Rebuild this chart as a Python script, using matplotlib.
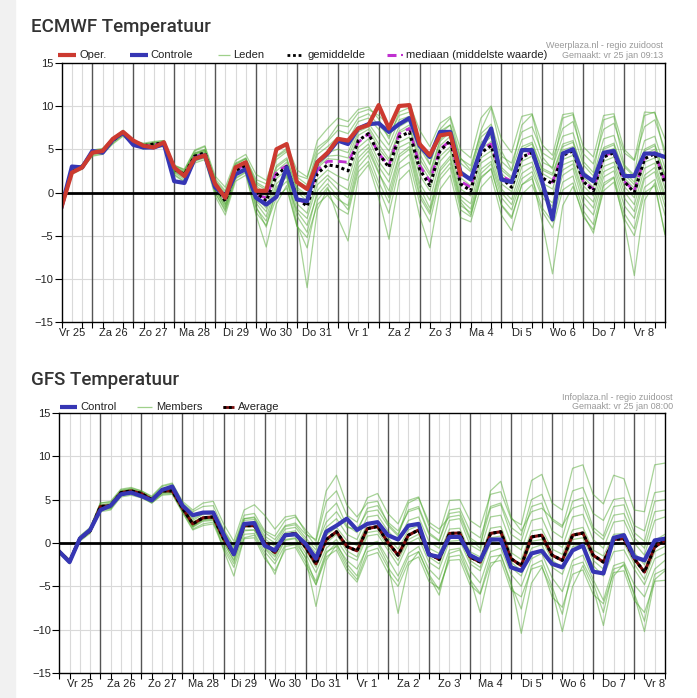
import numpy as np
import matplotlib.pyplot as plt
from matplotlib.patches import Rectangle
from matplotlib.lines import Line2D

plt.rcParams['font.family'] = ['Liberation Sans', 'DejaVu Sans']

W, H = 697, 698

day_labels = ['Vr 25', 'Za 26', 'Zo 27', 'Ma 28', 'Di 29', 'Wo 30', 'Do 31',
              'Vr 1', 'Za 2', 'Zo 3', 'Ma 4', 'Di 5', 'Wo 6', 'Do 7', 'Vr 8']

# ECMWF: 6-hourly values from vr 25 jan 06:00
ecmwf_oper = [-1.6, 2.3, 2.9, 4.6, 4.8, 6.2, 7.0, 6.0, 5.4, 5.2,
              5.8, 2.9, 1.9, 3.9, 4.3, 1.0, -0.6, 2.9, 3.5, 0.2,
              0.2, 5.0, 5.6, 1.2, 0.4, 3.5, 4.6, 6.2, 6.0, 7.4,
              7.8, 10.1, 7.4, 10.0, 10.1, 5.6, 4.3, 6.6, 6.8, 2.1]
ecmwf_control = [-1.6, 3.0, 2.9, 4.8, 4.6, 6.1, 6.9, 5.5, 5.2, 5.2,
                 5.6, 1.3, 1.1, 3.9, 4.3, 0.6, -0.4, 2.1, 2.7, -0.6,
                 -1.4, -0.5, 2.9, -0.8, -1.0, 3.5, 4.5, 6.0, 5.6, 7.4,
                 7.9, 8.0, 7.0, 7.9, 8.6, 5.4, 4.1, 7.0, 7.0, 2.3,
                 1.5, 5.0, 7.4, 1.5, 1.2, 4.9, 4.9, 1.2, -3.1, 4.5,
                 5.0, 2.1, 1.3, 4.6, 4.8, 1.9, 1.9, 4.5, 4.5, 4.1]
ecmwf_mean = [-1.6, 2.4, 3.0, 4.6, 4.8, 6.0, 6.9, 5.8, 5.4, 5.6,
              5.7, 2.7, 2.1, 4.2, 4.6, 0.8, -1.0, 2.5, 3.1, 0.0,
              -1.0, 2.0, 3.0, -0.6, -1.6, 2.2, 3.2, 3.0, 2.5, 6.0,
              6.8, 4.5, 2.9, 6.4, 7.0, 2.7, 0.8, 4.8, 6.0, 1.0,
              0.2, 4.6, 5.4, 1.7, 0.6, 4.1, 4.6, 1.7, 1.0, 4.3,
              4.8, 1.3, 0.2, 4.1, 4.6, 1.3, 0.0, 3.9, 4.5, 1.0]
ecmwf_median = [-1.6, 2.4, 3.0, 4.6, 4.8, 6.0, 6.9, 5.8, 5.4, 5.5,
                5.7, 2.6, 2.0, 4.1, 4.5, 0.9, -0.8, 2.6, 3.2, -0.3,
                -0.6, 2.4, 3.1, -0.8, -1.2, 2.6, 3.6, 3.6, 3.5, 5.8,
                6.8, 4.5, 3.1, 6.8, 7.4, 3.1, 1.3, 5.0, 6.0, 1.3,
                0.6, 5.0, 5.6, 1.9, 1.3, 4.3, 4.6, 1.5, 1.2, 4.5,
                5.0, 1.3, 0.4, 4.3, 4.6, 1.3, 0.2, 4.1, 4.6, 1.3]
ecmwf_members = [
    [-1.5, 2.6, 3.2, 4.9, 5.1, 6.3, 7.2, 6.0, 5.6, 5.8, 6.0, 3.2, 2.6, 4.8, 5.3, 1.6, 0.2, 3.4, 4.0, 1.5,
     1.0, 4.2, 5.1, 1.8, 0.9, 4.8, 5.9, 7.2, 6.8, 8.6, 9.1, 7.8, 6.5, 8.9, 9.3, 5.9, 4.0, 7.1, 7.8, 3.9,
     3.1, 6.8, 7.9, 4.2, 3.4, 7.0, 7.6, 4.6, 3.8, 7.4, 8.2, 4.5, 3.3, 7.3, 8.0, 4.6, 3.7, 7.6, 8.4, 4.9],
    [-1.7, 2.1, 2.7, 4.2, 4.4, 5.6, 6.5, 5.5, 5.0, 5.2, 5.3, 2.0, 1.2, 3.4, 3.8, -0.4, -2.6, 1.3, 2.0, -2.3,
     -3.8, -0.6, 0.5, -3.9, -5.2, -1.4, -0.3, -1.8, -2.5, 2.4, 3.6, 0.5, -2.4, 2.7, 3.5, -1.2, -3.4, 1.5, 2.9, -2.0,
     -2.8, 1.8, 2.7, -1.5, -3.0, 0.9, 1.6, -1.8, -3.4, 1.2, 1.9, -2.1, -3.7, 1.1, 1.8, -2.4, -4.2, 0.6, 1.5, -2.6],
    [-1.6, 2.5, 3.1, 4.7, 4.9, 6.1, 7.0, 5.9, 5.5, 5.7, 5.8, 2.9, 2.4, 4.5, 4.9, 1.2, -0.4, 3.0, 3.6, 0.8,
     -0.2, 3.1, 4.0, 0.6, -0.3, 3.4, 4.6, 5.0, 4.6, 7.4, 8.0, 6.3, 4.8, 7.6, 8.3, 4.5, 2.3, 6.1, 7.2, 2.6,
     1.6, 5.8, 6.6, 2.9, 1.8, 5.3, 5.8, 2.8, 2.2, 5.6, 6.0, 2.5, 1.3, 5.2, 5.7, 2.4, 1.2, 5.0, 5.6, 2.0],
    [-1.6, 2.3, 2.9, 4.5, 4.6, 5.8, 6.7, 5.6, 5.2, 5.4, 5.5, 2.4, 1.7, 3.9, 4.3, 0.3, -1.6, 2.0, 2.6, -0.9,
     -2.2, 1.0, 2.1, -1.9, -3.0, 0.9, 2.0, 1.0, 0.3, 4.6, 5.6, 3.0, 1.2, 5.2, 5.8, 1.1, -0.9, 3.6, 4.9, -0.4,
     -1.3, 3.4, 4.2, 0.4, -0.8, 3.0, 3.5, 0.5, -0.3, 3.2, 3.7, 0.1, -1.1, 3.0, 3.5, 0.1, -1.4, 2.8, 3.4, -0.3],
    [-1.6, 2.2, 2.8, 4.4, 4.7, 5.9, 6.8, 5.7, 5.3, 5.5, 5.6, 2.5, 1.9, 4.0, 4.4, 0.5, -1.3, 2.2, 2.8, -1.2,
     -2.8, 0.6, 1.8, -3.5, -11.0, -2.0, 0.4, -0.8, -1.5, 3.5, 4.8, 2.2, 0.2, 4.4, 5.3, 0.6, -1.8, 2.8, 4.2, -0.8,
     -1.9, 2.7, 3.6, 0.0, -1.4, 2.2, 3.0, -0.2, -1.2, 2.6, 3.3, -0.4, -1.8, 2.4, 3.0, -0.6, -2.2, 2.0, 2.9, -0.8],
    [-1.6, 2.6, 3.1, 4.8, 5.0, 6.2, 7.1, 6.0, 5.6, 5.7, 5.9, 3.1, 2.5, 4.6, 5.0, 1.3, -0.3, 3.2, 3.9, 1.2,
     0.5, 3.8, 4.7, 2.0, 1.6, 6.0, 7.4, 8.6, 8.2, 9.6, 9.9, 8.5, 6.2, 9.3, 9.8, 6.0, 3.3, 7.3, 8.6, 4.0,
     2.6, 7.2, 9.8, 4.8, 2.6, 7.8, 9.0, 4.1, 2.7, 8.6, 9.0, 3.6, 2.3, 8.4, 8.8, 3.2, 2.0, 8.9, 9.3, 4.2],
    [-1.6, 2.4, 3.0, 4.6, 4.8, 6.0, 6.8, 5.8, 5.3, 5.6, 5.7, 2.6, 2.0, 4.2, 4.6, 0.6, -1.4, 2.3, 2.9, -1.6,
     -4.0, 0.3, 2.0, -2.7, -4.6, 0.2, 1.6, 0.3, -0.6, 4.0, 5.2, 2.4, -0.6, 4.1, 5.0, -0.1, -2.2, 2.5, 3.9, -1.1,
     -2.6, 1.6, 2.8, -1.4, -2.8, 0.9, 1.9, -3.5, -9.4, -1.5, 0.7, -2.5, -4.7, 0.8, 1.7, -3.4, -9.6, -0.9, 1.1, -4.9],
    [-1.6, 2.5, 3.0, 4.6, 4.8, 6.1, 6.9, 5.8, 5.4, 5.6, 5.8, 2.8, 2.2, 4.3, 4.7, 0.9, -0.9, 2.6, 3.3, 0.3,
     -0.7, 2.5, 3.5, 0.1, -1.0, 2.8, 3.9, 3.8, 3.3, 6.6, 7.3, 5.1, 3.6, 6.9, 7.5, 3.4, 1.5, 5.4, 6.5, 1.7,
     0.8, 5.0, 5.9, 2.2, 1.1, 4.6, 5.2, 2.2, 1.5, 4.9, 5.3, 1.8, 0.6, 4.6, 5.1, 1.7, 0.5, 4.4, 5.0, 1.5],
    [-1.6, 2.3, 2.9, 4.5, 4.7, 5.9, 6.8, 5.7, 5.3, 5.5, 5.6, 2.3, 1.5, 3.7, 4.1, 0.0, -2.2, 1.6, 2.3, -2.6,
     -6.3, -1.3, 0.8, -3.8, -6.4, -0.9, 0.6, -2.9, -5.6, 1.7, 3.2, -0.6, -5.4, 1.4, 2.6, -2.7, -6.4, 0.4, 2.0, -2.9,
     -3.4, 0.6, 1.9, -2.6, -4.4, -0.2, 0.9, -2.2, -4.1, 0.3, 1.1, -2.8, -4.3, 0.2, 1.2, -3.0, -5.0, 0.0, 0.8, -4.8],
    [-1.6, 2.6, 3.2, 4.8, 5.0, 6.3, 7.1, 6.0, 5.7, 5.9, 6.0, 3.1, 2.7, 4.9, 5.4, 1.9, 0.6, 3.7, 4.4, 2.1,
     1.4, 4.9, 5.6, 2.6, 1.8, 5.2, 6.1, 7.8, 7.6, 9.2, 9.6, 8.9, 7.8, 9.8, 10.3, 7.2, 5.3, 8.0, 8.8, 5.0,
     4.0, 8.6, 10.0, 6.2, 4.6, 8.8, 9.1, 5.5, 4.3, 9.0, 9.2, 5.3, 4.1, 8.9, 9.1, 5.0, 3.8, 9.3, 9.2, 6.2],
    [-1.6, 2.4, 2.9, 4.5, 4.7, 5.9, 6.8, 5.7, 5.3, 5.5, 5.6, 2.5, 1.8, 4.0, 4.4, 0.4, -1.8, 2.0, 2.7, -0.5,
     -1.8, 1.6, 2.6, -1.3, -2.4, 1.5, 2.6, 1.9, 1.4, 5.2, 6.2, 3.6, 2.0, 5.8, 6.4, 2.0, 0.2, 4.2, 5.3, 0.4,
     -0.4, 4.0, 4.8, 1.0, 0.1, 3.6, 4.2, 1.1, 0.4, 3.8, 4.3, 0.8, -0.4, 3.6, 4.1, 0.7, -0.6, 3.5, 4.0, 0.5],
    [-1.6, 2.5, 3.1, 4.7, 4.9, 6.1, 7.0, 5.9, 5.5, 5.7, 5.8, 3.0, 2.3, 4.4, 4.8, 1.1, -0.6, 2.8, 3.4, 0.5,
     -0.4, 2.9, 3.8, 0.4, -0.6, 3.0, 4.2, 4.3, 4.0, 7.0, 7.6, 5.6, 3.9, 7.1, 7.8, 3.9, 2.0, 5.9, 7.0, 2.3,
     1.4, 5.5, 6.4, 2.6, 1.6, 5.0, 5.6, 2.6, 2.0, 5.3, 5.8, 2.3, 1.1, 5.0, 5.5, 2.1, 0.9, 4.8, 5.4, 1.9],
    [-1.6, 2.2, 2.8, 4.3, 4.5, 5.7, 6.6, 5.6, 5.1, 5.3, 5.4, 2.1, 1.3, 3.6, 4.0, 0.0, -2.0, 1.7, 2.4, -1.8,
     -3.3, 0.1, 1.3, -2.2, -3.8, -0.3, 1.0, -0.5, -2.0, 2.9, 4.3, 1.2, -1.2, 3.4, 4.4, -0.5, -2.5, 2.0, 3.4, -1.5,
     -2.3, 2.2, 3.3, -0.6, -2.0, 1.6, 2.4, -0.6, -1.6, 2.0, 2.8, -1.2, -2.6, 1.8, 2.5, -1.5, -3.0, 1.6, 2.4, -1.6],
    [-1.6, 2.7, 3.1, 4.8, 4.9, 6.2, 7.0, 5.9, 5.5, 5.6, 5.8, 2.8, 2.3, 4.5, 4.9, 1.4, 0.0, 3.3, 3.9, 1.0,
     0.3, 4.1, 4.9, 1.4, 0.6, 4.4, 5.3, 6.4, 6.0, 8.2, 8.6, 7.3, 5.5, 8.4, 8.8, 5.2, 3.2, 6.8, 7.8, 3.4,
     2.4, 6.4, 7.4, 3.6, 2.5, 6.1, 6.6, 3.5, 2.9, 6.5, 6.9, 3.2, 1.9, 6.2, 6.6, 3.0, 1.8, 6.0, 6.5, 2.8],
]

# GFS: 6-hourly values from vr 25 jan 00:00
gfs_control = [-1.0, -2.2, 0.5, 1.5, 3.8, 4.3, 5.6, 5.8, 5.4, 4.9,
               6.1, 6.5, 4.3, 3.2, 3.5, 3.5, 1.0, -1.3, 2.2, 2.3,
               -0.3, -0.85, 0.9, 1.0, -0.1, -1.8, 1.3, 2.0, 2.8, 1.5,
               2.2, 2.4, 0.9, 0.4, 2.0, 2.2, -1.35, -1.6, 0.7, 0.7,
               -1.4, -2.0, 0.4, 0.4, -2.8, -3.2, -1.2, -0.9, -2.4, -2.8,
               -0.85, -0.3, -3.3, -3.5, 0.6, 0.9, -1.6, -2.0, 0.3, 0.5]
gfs_average = [-1.0, -2.1, 0.5, 1.4, 4.2, 4.3, 5.8, 6.0, 5.7, 5.0,
               6.0, 6.0, 4.0, 2.2, 2.9, 3.0, 0.5, -1.3, 2.0, 2.0,
               0.0, -1.1, 0.9, 1.1, -0.5, -2.4, 0.4, 1.3, -0.4, -0.9,
               1.65, 1.9, 0.1, -1.4, 0.9, 1.5, -1.2, -1.9, 1.1, 1.15,
               -1.6, -2.2, 1.1, 1.3, -1.8, -2.6, 0.7, 0.9, -1.4, -2.0,
               0.9, 1.15, -1.4, -2.2, 0.4, 0.5, -1.8, -3.35, -0.45, 0.3]
gfs_members = [
    [-0.8, -1.9, 0.8, 1.8, 4.6, 4.8, 6.2, 6.4, 6.0, 5.3, 6.5, 6.8, 4.6, 3.6, 4.2, 4.3, 1.6, -0.3, 3.2, 3.4,
     1.4, 0.8, 2.6, 3.0, 1.5, 0.2, 4.8, 6.0, 3.2, 2.4, 5.2, 5.7, 3.4, 2.2, 4.9, 5.3, 2.0, 1.1, 4.9, 5.0,
     2.6, 1.8, 5.6, 5.9, 2.8, 2.1, 7.2, 7.9, 4.6, 3.8, 8.6, 9.0, 5.6, 4.5, 7.8, 7.4, 3.8, 3.6, 9.0, 9.2],
    [-1.1, -2.4, 0.2, 1.1, 3.6, 3.8, 5.3, 5.5, 5.2, 4.6, 5.5, 5.6, 3.5, 1.5, 2.0, 2.2, -0.6, -2.8, 0.5, 0.6,
     -1.8, -3.2, -0.8, -0.5, -2.6, -4.8, -1.6, -0.8, -3.2, -4.5, -1.5, -1.1, -3.4, -5.0, -2.2, -1.6, -4.4, -5.2, -2.0, -1.9,
     -4.8, -5.9, -2.3, -2.0, -5.4, -6.2, -3.0, -2.6, -6.2, -7.4, -3.6, -3.1, -5.9, -7.0, -3.4, -3.2, -6.6, -8.0, -4.4, -4.3],
    [-1.0, -2.1, 0.5, 1.4, 4.1, 4.2, 5.8, 6.0, 5.6, 4.9, 6.0, 6.1, 4.1, 2.4, 3.0, 3.1, 0.6, -1.1, 2.2, 2.3,
     0.2, -0.8, 1.2, 1.4, -0.2, -2.0, 0.9, 1.8, 0.3, -0.3, 2.2, 2.4, 0.6, -0.7, 1.5, 2.0, -0.6, -1.2, 1.6, 1.7,
     -1.0, -1.6, 1.7, 1.9, -1.1, -1.9, 1.4, 1.6, -0.7, -1.3, 1.5, 1.8, -0.8, -1.5, 1.0, 1.1, -1.1, -2.5, 0.3, 1.0],
    [-1.0, -2.2, 0.4, 1.3, 4.0, 4.1, 5.6, 5.8, 5.4, 4.7, 5.8, 5.9, 3.8, 1.9, 2.6, 2.7, 0.2, -2.1, 1.4, 1.5,
     -0.6, -2.0, 0.3, 0.5, -1.8, -7.3, -2.0, -0.2, -2.0, -3.0, -0.5, 0.0, -2.4, -8.1, -2.6, -1.0, -3.8, -6.0, -1.2, -0.8,
     -4.0, -8.0, -2.8, -1.3, -4.5, -10.4, -4.6, -2.8, -5.4, -10.2, -5.0, -2.6, -5.2, -9.5, -3.8, -2.4, -6.0, -10.2, -4.2, -3.2],
    [-0.9, -2.0, 0.7, 1.6, 4.4, 4.6, 6.0, 6.2, 5.9, 5.2, 6.3, 6.4, 4.4, 3.0, 3.6, 3.7, 1.4, -0.4, 2.8, 3.0,
     1.2, 0.4, 2.0, 2.3, 1.0, 0.4, 6.0, 7.8, 4.4, 3.0, 4.6, 4.8, 2.2, 1.0, 3.8, 4.2, 1.2, 0.3, 3.8, 4.0,
     1.4, 0.6, 4.2, 4.6, 1.8, 0.9, 5.0, 5.6, 2.6, 1.8, 6.0, 6.4, 3.4, 2.6, 5.0, 5.2, 2.0, 1.4, 5.8, 6.0],
    [-1.0, -2.2, 0.4, 1.3, 3.9, 4.0, 5.6, 5.9, 5.5, 4.8, 5.8, 5.8, 3.8, 1.8, 2.5, 2.6, 0.0, -1.9, 1.5, 1.5,
     -0.5, -1.6, 0.4, 0.6, -1.2, -3.4, -0.6, 0.4, -1.4, -2.0, 0.8, 1.0, -0.8, -2.6, 0.0, 0.6, -2.2, -3.0, 0.2, 0.3,
     -2.4, -3.2, 0.1, 0.4, -2.8, -3.8, -0.6, -0.2, -2.8, -3.6, -0.4, -0.2, -2.6, -3.8, -1.0, -0.8, -3.0, -4.8, -1.8, -1.2],
    [-1.0, -2.0, 0.6, 1.5, 4.3, 4.5, 5.9, 6.1, 5.8, 5.1, 6.2, 6.2, 4.2, 2.6, 3.3, 3.4, 0.9, -0.8, 2.6, 2.7,
     0.5, -0.4, 1.6, 1.8, 0.3, -1.2, 1.8, 2.8, 1.0, 0.4, 3.0, 3.2, 1.4, 0.2, 2.6, 3.0, 0.2, -0.6, 2.6, 2.8,
     -0.2, -0.9, 3.0, 3.2, 0.0, -0.8, 2.6, 2.9, 0.2, -0.5, 3.0, 3.3, 0.4, -0.6, 2.4, 2.6, 0.0, -1.4, 2.6, 3.0],
    [-1.1, -2.3, 0.3, 1.2, 3.8, 3.9, 5.5, 5.7, 5.3, 4.6, 5.6, 5.7, 3.6, 1.6, 2.2, 2.4, -0.3, -2.4, 1.0, 1.1,
     -1.0, -2.4, -0.2, 0.0, -1.6, -4.8, -1.2, 0.0, -2.4, -3.8, -0.2, 0.2, -1.8, -3.8, -1.2, -0.4, -3.0, -4.2, -0.8, -0.6,
     -3.2, -4.6, -1.0, -0.6, -3.6, -5.0, -1.8, -1.2, -4.0, -5.6, -2.0, -1.4, -4.2, -6.6, -2.6, -2.2, -4.8, -6.2, -3.0, -2.0],
    [-1.0, -2.1, 0.6, 1.5, 4.3, 4.4, 6.0, 6.2, 5.8, 5.1, 6.1, 6.3, 4.3, 2.8, 3.4, 3.5, 1.2, -0.6, 2.8, 2.9,
     0.8, 0.0, 1.9, 2.1, 0.6, -0.8, 3.4, 4.6, 2.0, 1.2, 4.0, 4.3, 2.4, 1.4, 3.6, 4.0, 1.0, 0.2, 3.4, 3.6,
     0.6, -0.2, 4.0, 4.4, 1.0, 0.2, 4.2, 4.6, 1.4, 0.6, 4.8, 5.2, 1.8, 0.8, 4.2, 4.4, 1.2, 0.2, 4.8, 5.0],
    [-1.0, -2.1, 0.5, 1.4, 4.0, 4.1, 5.7, 5.9, 5.6, 4.9, 5.9, 6.0, 3.9, 2.0, 2.8, 2.8, 0.3, -1.6, 1.8, 1.9,
     -0.2, -1.4, 0.7, 0.9, -0.8, -2.8, 0.0, 1.0, -0.9, -1.6, 1.2, 1.4, -0.4, -2.0, 0.4, 1.0, -1.6, -2.4, 0.6, 0.8,
     -2.0, -2.8, 0.6, 0.8, -2.2, -3.2, 0.2, 0.4, -2.0, -2.8, 0.4, 0.6, -2.0, -3.0, -0.2, 0.0, -2.4, -4.2, -1.0, -0.4],
    [-0.9, -2.0, 0.7, 1.7, 4.6, 4.7, 6.1, 6.3, 6.0, 5.4, 6.6, 6.9, 4.8, 3.8, 4.6, 4.8, 2.2, 0.2, 3.8, 4.4,
     3.2, 1.6, 3.0, 3.2, 1.2, -0.4, 2.4, 3.6, 1.8, 1.6, 3.6, 3.8, 2.0, 0.8, 4.6, 5.2, 2.4, 1.6, 3.0, 3.2,
     0.4, -0.6, 6.0, 7.1, 3.0, 1.4, 3.6, 4.0, 2.8, 2.0, 4.0, 4.4, 1.4, 0.4, 3.2, 3.4, 0.6, -0.6, 3.6, 3.8],
    [-1.0, -2.2, 0.4, 1.3, 3.9, 4.0, 5.5, 5.7, 5.4, 4.8, 5.7, 5.8, 3.7, 1.9, 2.7, 2.8, -0.8, -3.8, 0.6, 0.9,
     -1.4, -3.6, -0.4, -0.2, -2.2, -4.4, -1.0, -0.4, -2.8, -4.2, -1.0, -0.6, -2.8, -4.4, -1.6, -1.0, -3.6, -5.4, -1.6, -1.4,
     -4.2, -5.8, -1.6, -1.4, -4.8, -7.6, -2.6, -2.0, -5.0, -8.2, -2.6, -2.2, -4.6, -8.0, -3.0, -2.6, -5.8, -9.0, -3.6, -3.0],
]

ecmwf_hours = 6 + 6 * np.arange(len(ecmwf_control))
gfs_hours = 6 * np.arange(len(gfs_control))

fig = plt.figure(figsize=(W / 100, H / 100), dpi=100)
fig.patches.append(Rectangle((0, 0), 15 / W, 1, transform=fig.transFigure,
                             color='#f1f1f1', zorder=0))


def fx(x):
    return x / W


def fy(y):
    return 1 - y / H


def style_axes(ax, t0, t1):
    ax.set_xlim(t0, t1)
    ax.set_ylim(-15, 15)
    for h in range(0, 361, 6):
        if t0 < h < t1:
            if h % 24 == 0:
                ax.axvline(h, color='#555555', lw=1.0, zorder=1)
            else:
                ax.axvline(h, color='#d9d9d9', lw=0.8, zorder=0.5)
    for v in range(-10, 15, 5):
        ax.axhline(v, color='#d9d9d9', lw=0.8, zorder=0.5)
    ax.axhline(0, color='black', lw=2.0, zorder=3)
    ax.set_yticks(range(-15, 16, 5))
    ax.set_xticks([12 + 24 * k for k in range(15)])
    ax.set_xticklabels(day_labels)
    ax.set_xticks([h for h in range(0, 361, 6) if t0 <= h <= t1], minor=True)
    ax.tick_params(axis='x', which='major', length=0, labelsize=8, pad=4, labelcolor='#222222')
    ax.tick_params(axis='x', which='minor', length=4, width=0.8, color='black')
    ax.tick_params(axis='y', length=5, width=0.8, labelsize=8, pad=1, labelcolor='#222222')
    for s in ax.spines.values():
        s.set_color('black')
        s.set_linewidth(1.0)
        s.set_zorder(6)


member_style = dict(color='#4fa830', lw=0.9, alpha=0.5, zorder=2)

# ECMWF panel
ax1 = fig.add_axes([fx(61.7), fy(322.3), fx(665 - 61.7), (322.3 - 62.7) / H])
style_axes(ax1, 6, 360)
for m in ecmwf_members:
    ax1.plot(ecmwf_hours, m, **member_style)
ax1.plot(ecmwf_hours, ecmwf_median, color='#c030d0', lw=2.0, ls=(0, (3, 2)), zorder=4)
ax1.plot(ecmwf_hours, ecmwf_mean, color='black', lw=2.2, ls=(0, (1, 1)), zorder=4)
ax1.plot(ecmwf_hours, ecmwf_control, color='#3636b4', lw=3.0, zorder=5)
ax1.plot(ecmwf_hours[:len(ecmwf_oper)], ecmwf_oper, color='#cc3a30', lw=3.0, zorder=5)

# GFS panel
ax2 = fig.add_axes([fx(59.3), fy(673.3), fx(665 - 59.3), (673.3 - 412.7) / H])
style_axes(ax2, 0, 354)
for m in gfs_members:
    ax2.plot(gfs_hours, m, **member_style)
ax2.plot(gfs_hours, gfs_average, color='#7a0c0c', lw=2.2, zorder=4)
ax2.plot(gfs_hours, gfs_average, color='black', lw=2.2, ls=(0, (1, 1)), zorder=4)
ax2.plot(gfs_hours, gfs_control, color='#3636b4', lw=3.0, zorder=5)

# titles
fig.text(fx(31), fy(27), 'ECMWF Temperatuur', fontsize=13.5, family=['Roboto', 'DejaVu Sans'],
         fontweight='medium', color='#333333', va='center', ha='left')
fig.text(fx(31), fy(380), 'GFS Temperatuur', fontsize=13.5, family=['Roboto', 'DejaVu Sans'],
         fontweight='medium', color='#333333', va='center', ha='left')


def legend_item(x0, x1, y, text, tx, **kw):
    fig.add_artist(Line2D([fx(x0), fx(x1)], [fy(y), fy(y)], transform=fig.transFigure,
                          solid_capstyle='butt', dash_capstyle='butt', **kw))
    fig.text(fx(tx), fy(y), text, fontsize=8, color='#222222', va='center', ha='left')


legend_item(58, 76, 55, 'Oper.', 79, color='#cc3a30', lw=3.0)
legend_item(130, 148, 55, 'Controle', 150, color='#3636b4', lw=3.0)
legend_item(218, 230, 55, 'Leden', 233, color='#9fd08a', lw=0.9)
legend_item(287, 302, 55, 'gemiddelde', 307, color='black', lw=2.0, ls=(0, (1, 1)))
legend_item(387, 396, 55, '', 405, color='#c030d0', lw=2.2)
legend_item(401, 403, 55, 'mediaan (middelste waarde)', 406, color='#c030d0', lw=1.5)
fig.text(fx(663), fy(45.5), 'Weerplaza.nl - regio zuidoost', fontsize=6.5, color='#999999',
         ha='right', va='center')
fig.text(fx(663), fy(55), 'Gemaakt: vr 25 jan 09:13', fontsize=6.5, color='#999999',
         ha='right', va='center')

legend_item(60, 77, 406.5, 'Control', 80, color='#3636b4', lw=3.0)
legend_item(137, 152, 406.5, 'Members', 156, color='#9fd08a', lw=0.9)
legend_item(223, 234, 406.5, '', 237, color='#7a0c0c', lw=2.0)
legend_item(223, 234, 406.5, 'Average', 238, color='black', lw=2.0, ls=(0, (1, 1)))
fig.text(fx(673), fy(397.5), 'Infoplaza.nl - regio zuidoost', fontsize=6.5, color='#999999',
         ha='right', va='center')
fig.text(fx(673), fy(406.5), 'Gemaakt: vr 25 jan 08:00', fontsize=6.5, color='#999999',
         ha='right', va='center')

fig.savefig('out.png', dpi=100)
